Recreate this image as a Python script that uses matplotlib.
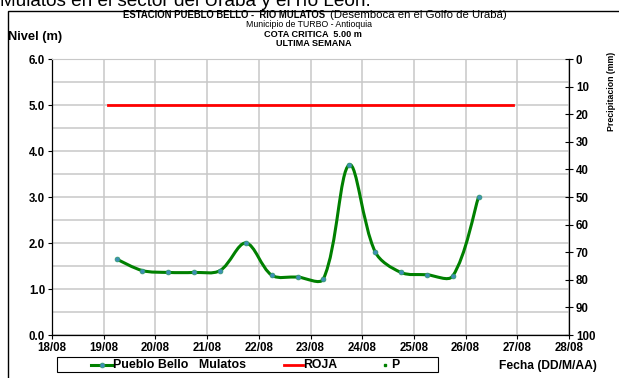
import matplotlib
matplotlib.use("Agg")
import matplotlib.pyplot as plt
from matplotlib.path import Path
from matplotlib.patches import PathPatch, Rectangle
from matplotlib.lines import Line2D
import numpy as np

plt.rcParams['font.family'] = ['Liberation Sans', 'DejaVu Sans']

# ---- data (x in days of August) ----
nivel_x = [19.25, 19.75, 20.25, 20.75, 21.25, 21.75, 22.25, 22.75, 23.25,
           23.75, 24.25, 24.75, 25.25, 25.75, 26.25]
nivel_y = [1.65, 1.40, 1.36, 1.36, 1.40, 2.00, 1.30, 1.26, 1.22,
           3.70, 1.81, 1.36, 1.31, 1.28, 3.00]
roja_x = [19.08, 26.92]
roja_y = [5.0, 5.0]
precip_x = []
precip_y = []
xtick_days = list(range(18, 29))
xtick_labels = [f"{d:02d}/08" for d in xtick_days]
legend_labels = ["Pueblo Bello   Mulatos", "ROJA", "P"]

W, H = 619, 378
fig = plt.figure(figsize=(W / 100, H / 100), dpi=100)

def fx(px):
    return px / W

def fy(py):
    return 1 - py / H

GREEN = '#008000'
MFC = '#3d8fb5'
MEC = '#2f9a6a'

# outer frame and cropped caption
fig.patches.append(Rectangle((fx(8), -0.1), 1.2, fy(11) + 0.1, transform=fig.transFigure,
                             fill=False, edgecolor='black', linewidth=1.0))
fig.text(fx(0), fy(6), "Mulatos en el sector del Urabá y el río León.", fontsize=13.7,
         ha='left', va='baseline')

ax = fig.add_axes([fx(52), fy(335), (569 - 52) / W, (335 - 59) / H])
ax.set_xlim(18, 28)
ax.set_ylim(0, 6)
ax.set_xticks(xtick_days)
ax.set_xticklabels(xtick_labels)
ax.set_yticks(np.arange(0, 6.01, 1.0))
ax.set_yticklabels([f"{v:.1f}" for v in np.arange(0, 6.01, 1.0)])
ax.set_yticks(np.arange(0.5, 6, 1.0), minor=True)
ax.grid(True, which='both', color='#c8c8c8', linewidth=1.1)
ax.set_axisbelow(True)
ax.tick_params(axis='both', which='major', labelsize=8.3, direction='out', length=3, width=0.8, pad=2)
ax.tick_params(axis='y', which='minor', length=0)
for lab in ax.get_xticklabels() + ax.get_yticklabels():
    lab.set_fontweight('bold')
ax.spines['top'].set_color('#c8c8c8')
ax.spines['right'].set_visible(False)
for s in ('left', 'bottom'):
    ax.spines[s].set_linewidth(0.9)

# smoothed line: cardinal bezier with chord-length weighting (spreadsheet-style smoothing)
sx = 51.7   # px per day  (only used to weight tangents in screen proportions)
sy = 46.0   # px per metre
pts = np.column_stack([nivel_x, nivel_y])
n = len(pts)

def dist(a, b):
    return np.hypot((a[0] - b[0]) * sx, (a[1] - b[1]) * sy)

verts = [tuple(pts[0])]
codes = [Path.MOVETO]
for i in range(n - 1):
    p0 = pts[i - 1] if i > 0 else pts[i]
    p1 = pts[i]
    p2 = pts[i + 1]
    p3 = pts[i + 2] if i + 2 < n else pts[i + 1]
    d01, d12, d23 = dist(p0, p1), dist(p1, p2), dist(p2, p3)
    t1 = p2 - p0
    t2 = p3 - p1
    w1 = d12 / (d01 + d12) if (d01 + d12) > 0 else 0.5
    w2 = d12 / (d12 + d23) if (d12 + d23) > 0 else 0.5
    if i == 0:
        w1 = 0.5
    if i + 2 >= n:
        w2 = 0.5
    c1 = p1 + t1 * w1 / 3
    c2 = p2 - t2 * w2 / 3
    verts += [tuple(c1), tuple(c2), tuple(p2)]
    codes += [Path.CURVE4] * 3
ax.add_patch(PathPatch(Path(verts, codes), fill=False, edgecolor=GREEN, linewidth=2.2, zorder=3))
ax.plot(nivel_x, nivel_y, linestyle='none', marker='o', markersize=3.5,
        markerfacecolor=MFC, markeredgecolor=MEC, markeredgewidth=0.5, zorder=4)
ax.plot(roja_x, roja_y, color='#ff0000', linewidth=2.0, zorder=3)

# right precipitation axis
ax2 = ax.twinx()
ax2.set_ylim(100, 0)
ax2.set_yticks(range(0, 101, 10))
ax2.plot(precip_x, precip_y, linestyle='none', marker='s', markersize=2, color=GREEN)
ax2.tick_params(axis='y', labelsize=8.3, direction='inout', length=6, width=0.8, pad=2)
for lab in ax2.get_yticklabels():
    lab.set_fontweight('bold')
for s in ('left', 'top', 'bottom'):
    ax2.spines[s].set_visible(False)
ax2.spines['right'].set_linewidth(0.9)
fig.text(fx(611), fy(91), "Precipitacion (mm)", fontsize=6.3, fontweight='bold',
         rotation=90, ha='center', va='center')

# titles
fig.text(fx(123), fy(17.5), "ESTACION PUEBLO BELLO -  RIO MULATOS", fontsize=6.85,
         fontweight='bold', ha='left', va='baseline')
fig.text(fx(330), fy(17.5), "(Desemboca en el Golfo de Urabá)", fontsize=8.2, ha='left', va='baseline')
fig.text(fx(309), fy(27), "Municipio de TURBO - Antioquia", fontsize=6.3, ha='center', va='baseline')
fig.text(fx(313), fy(37), "COTA CRITICA  5.00 m", fontsize=6.6, fontweight='bold', ha='center', va='baseline')
fig.text(fx(314), fy(46.5), "ULTIMA SEMANA", fontsize=6.6, fontweight='bold', ha='center', va='baseline')
fig.text(fx(8), fy(40), "Nivel (m)", fontsize=9.3, fontweight='bold', ha='left', va='baseline')
fig.text(fx(597), fy(369), "Fecha (DD/M/AA)", fontsize=8.7, fontweight='bold', ha='right', va='baseline')

# legend (drawn as a framed key below the plot)
fig.patches.append(Rectangle((fx(57), fy(372)), (438 - 57) / W, 15 / H, transform=fig.transFigure,
                             fill=False, edgecolor='black', linewidth=0.8))
ly = fy(364.5)
fig.add_artist(Line2D([fx(91), fx(112)], [ly, ly], color=GREEN, linewidth=2.2, transform=fig.transFigure))
fig.add_artist(Line2D([fx(101.5)], [ly], marker='o', markersize=3.5, markerfacecolor=MFC,
                      markeredgecolor=MEC, markeredgewidth=0.5, transform=fig.transFigure))
fig.text(fx(113), ly, legend_labels[0], fontsize=8.9, fontweight='bold', ha='left', va='center')
fig.add_artist(Line2D([fx(284), fx(303)], [ly, ly], color='#ff0000', linewidth=2.0, transform=fig.transFigure))
fig.text(fx(303), ly, legend_labels[1], fontsize=8.8, fontweight='bold', ha='left', va='center')
fig.add_artist(Line2D([fx(385)], [ly], marker='s', markersize=2, color=GREEN, linestyle='none',
                      transform=fig.transFigure))
fig.text(fx(391), ly, legend_labels[2], fontsize=8.8, fontweight='bold', ha='left', va='center')

fig.savefig("out.png", dpi=100)
